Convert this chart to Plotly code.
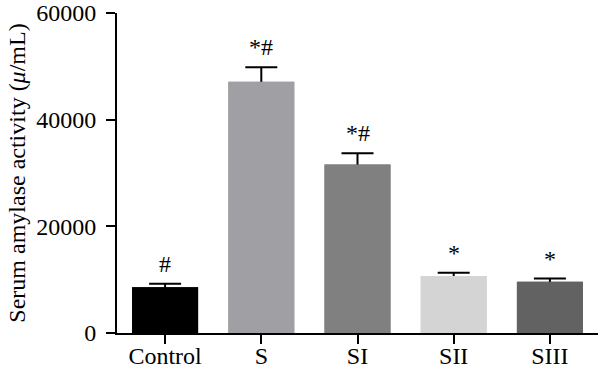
import plotly.graph_objects as go

categories = ["Control", "S", "SI", "SII", "SIII"]
values = [8600, 47100, 31600, 10700, 9600]
errors = [650, 2750, 2100, 600, 600]
labels = ["#", "*#", "*#", "*", "*"]
colors = ["#000000", "#a0a0a4", "#808080", "#d4d4d4", "#626262"]
y_ticks = [0, 20000, 40000, 60000]

font = "Liberation Serif"
fsize = 24

fig = go.Figure()
# bars carrying symmetric error bars; the lower half is hidden by the bars drawn on top
fig.add_trace(go.Bar(
    x=categories, y=values,
    marker=dict(color=colors, line=dict(width=0)),
    error_y=dict(type="data", array=errors, color="black", thickness=2, width=16),
    width=0.686,
))
fig.add_trace(go.Bar(
    x=categories, y=values,
    marker=dict(color=colors, line=dict(width=0)),
    width=0.686,
))

for c, v, e, t in zip(categories, values, errors, labels):
    fig.add_annotation(x=c, y=v + e, text=t, showarrow=False, yanchor="bottom",
                       yshift=5, font=dict(family=font, size=fsize, color="black"))

fig.update_layout(
    width=600, height=378,
    margin=dict(l=117, r=2, t=13, b=45),
    plot_bgcolor="white", paper_bgcolor="white",
    showlegend=False, barmode="overlay",
    font=dict(family=font, size=fsize, color="black"),
)
fig.update_xaxes(
    range=[-0.5, 4.5], showline=True, linecolor="black", linewidth=2,
    ticks="outside", ticklen=9, tickwidth=2, tickcolor="black", automargin=False,
    tickfont=dict(family=font, size=fsize, color="black"), showgrid=False,
    ticklabelstandoff=-9,
)
fig.update_yaxes(
    range=[0, 60000], tickvals=y_ticks, ticktext=[str(t) for t in y_ticks],
    showline=True, linecolor="black", linewidth=2, automargin=False,
    ticks="outside", ticklen=9, tickwidth=2, tickcolor="black",
    tickfont=dict(family=font, size=fsize, color="black"), showgrid=False, zeroline=False,
    ticklabeloverflow="allow", ticklabelstandoff=5,
    title=dict(text="Serum amylase activity (<i>μ</i>/mL)", font=dict(family=font, size=24, color="black"),
               standoff=4),
)

fig.write_html("out.html", config={"displayModeBar": False},
               post_script="document.body.style.margin='0';")
